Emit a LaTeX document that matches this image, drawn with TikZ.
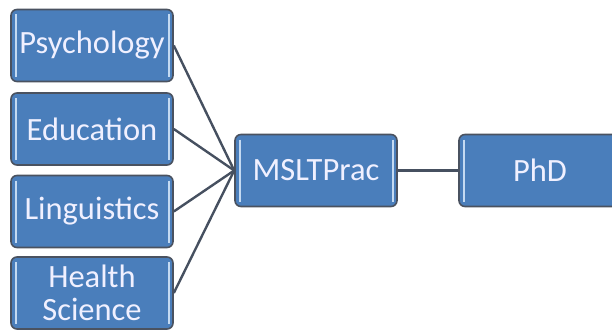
\documentclass[tikz,border=0pt]{standalone}
\usepackage{fontspec}
\setmainfont{Carlito}
\usetikzlibrary{positioning}
\definecolor{boxblue}{HTML}{4A7EBB}
\definecolor{boxedge}{HTML}{4A5260}
\definecolor{edgeglow}{HTML}{C4DAF2}
\definecolor{linkgray}{HTML}{465060}
\tikzstyle{field}=[rectangle,rounded corners=6pt,draw=boxedge,line width=1.6pt,fill=boxblue,
  text=white!94!blue,font=\fontsize{32.5}{33}\selectfont,align=center,
  minimum width=162pt,minimum height=72pt,inner sep=0pt,
  path picture={\draw[edgeglow,line width=2pt,rounded corners=0pt]
    ([xshift=4.5pt,yshift=-5pt]path picture bounding box.north west) -- ([xshift=4.5pt,yshift=5pt]path picture bounding box.south west)
    ([xshift=-4.5pt,yshift=-5pt]path picture bounding box.north east) -- ([xshift=-4.5pt,yshift=5pt]path picture bounding box.south east);}]
\tikzset{link/.style={draw=linkgray,line width=2.4pt}}

\begin{document}
\begin{tikzpicture}[x=1pt,y=-1pt]
    \useasboundingbox (0,0) rectangle (612,329);

    \foreach \pos/\name/\txt in {{(92,45.5)/psych/Psychology}, {(92,129)/edu/Education}, {(92,211.5)/ling/Linguistics}, {(92,293)/health/{Health\\Science}}}
        \node[field] (\name) at \pos {\txt};

    \node[field] (mslt) at (316,170.5) {MSLTPrac};
    \node[field] (phd) at (540,170.5) {PhD};

    \foreach \name in {psych,edu,ling,health}
        \draw[link] (\name.east) -- (mslt.west);
    \draw[link] (mslt) -- (phd);

\end{tikzpicture}
\end{document}
